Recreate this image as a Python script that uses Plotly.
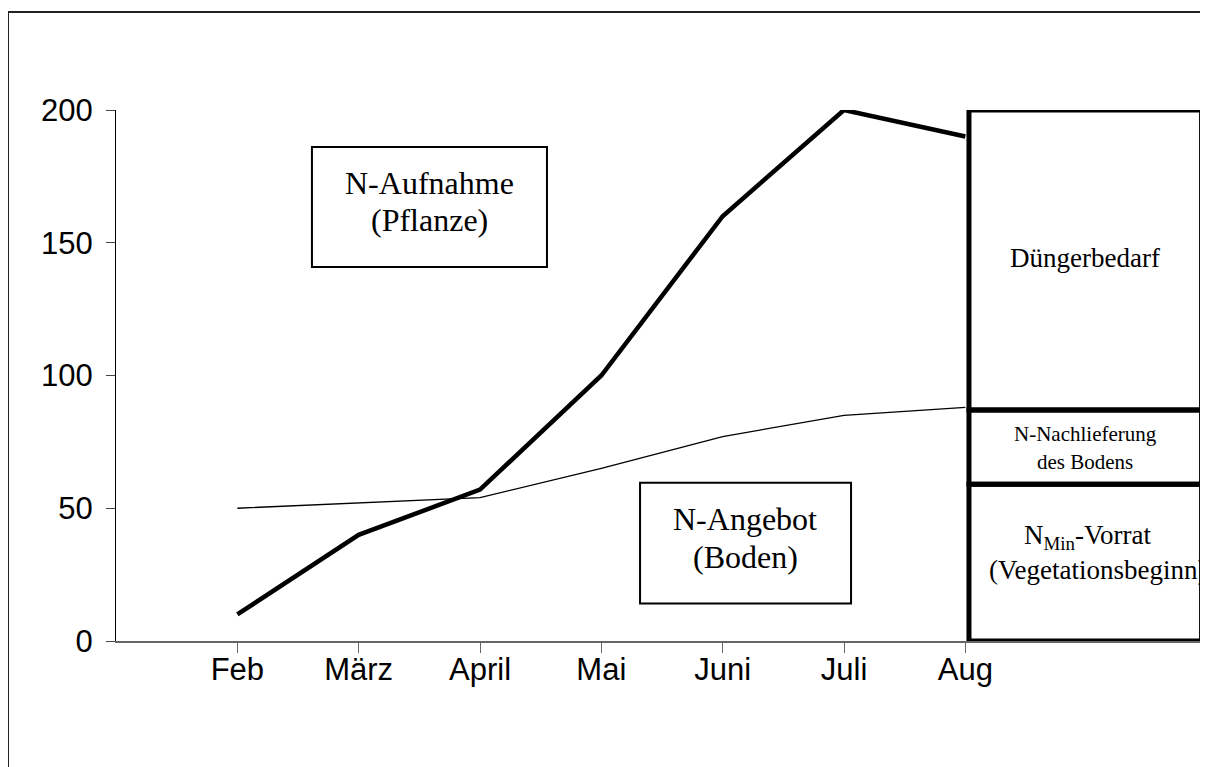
import plotly.graph_objects as go

# Monate und Werte (kg N/ha)
monate = ["Feb", "März", "April", "Mai", "Juni", "Juli", "Aug"]
n_aufnahme = [10, 40, 57, 100, 160, 200, 190]
n_angebot = [50, 52, 54, 65, 77, 85, 88]
y_ticks = [0, 50, 100, 150, 200]

# Grenzen der Bilanz-Säule rechts (kg N/ha)
saeule_grenzen = [0, 59, 87, 200]

x_pos = list(range(1, len(monate) + 1))
serif = "Liberation Serif, Times New Roman, serif"
sans = "Liberation Sans, Arial, sans-serif"

fig = go.Figure()
fig.add_trace(
    go.Scatter(
        x=x_pos,
        y=n_angebot,
        mode="lines",
        line=dict(color="black", width=1.3),
        name="N-Angebot",
    )
)
fig.add_trace(
    go.Scatter(
        x=x_pos,
        y=n_aufnahme,
        mode="lines",
        line=dict(color="black", width=4.5),
        name="N-Aufnahme",
    )
)

# Rahmen um die ganze Grafik
fig.add_shape(
    type="rect", xref="paper", yref="paper",
    x0=-0.0989, x1=1.02, y0=-0.3, y1=1.1846,
    line=dict(color="#222", width=2),
)

# Strich unter der Y-Achse (erster Teilstrich der X-Achse)
fig.add_shape(type="line", x0=0, x1=0, y0=0, y1=-3.8,
              line=dict(color="black", width=1))

# Textkästen
fig.add_shape(type="rect", x0=1.615, x1=3.552, y0=140.9, y1=186.1,
              line=dict(color="black", width=2), fillcolor="white", layer="below")
fig.add_shape(type="rect", x0=4.319, x1=6.058, y0=14.1, y1=59.6,
              line=dict(color="black", width=2), fillcolor="white", layer="below")

# Bilanz-Säule
for lo, hi in zip(saeule_grenzen[:-1], saeule_grenzen[1:]):
    fig.add_shape(type="rect", x0=7.03, x1=8.947, y0=lo, y1=hi,
                  line=dict(color="black", width=5), fillcolor="rgba(0,0,0,0)")

texte = [
    (2.584, 172.5, "N-Aufnahme", 32),
    (2.584, 158.5, "(Pflanze)", 32),
    (5.188, 45.8, "N-Angebot", 32),
    (5.188, 31.8, "(Boden)", 32),
    (7.99, 144.3, "Düngerbedarf", 27),
    (7.99, 78.0, "N-Nachlieferung", 21),
    (7.99, 67.5, "des Bodens", 21),
    (8.01, 39.3, "N<sub>Min</sub>-Vorrat", 27),
    (8.09, 26.9, "(Vegetationsbeginn)", 27),
]
for x, y, t, s in texte:
    fig.add_annotation(x=x, y=y, text=t, showarrow=False,
                       font=dict(family=serif, size=s, color="black"))

fig.update_layout(
    width=1200,
    height=759,
    margin=dict(l=108, r=0, t=102, b=126),
    paper_bgcolor="white",
    plot_bgcolor="white",
    showlegend=False,
    xaxis=dict(
        range=[0, 9],
        tickvals=x_pos,
        ticktext=monate,
        ticks="outside",
        ticklen=10,
        tickcolor="#666",
        showline=True,
        linecolor="#666",
        linewidth=1.5,
        showgrid=False,
        zeroline=False,
        tickfont=dict(family=sans, size=31, color="black"),
        ticklabelstandoff=-10,
    ),
    yaxis=dict(
        range=[0, 200],
        tickvals=y_ticks,
        ticks="outside",
        ticklen=9,
        tickcolor="#444",
        showline=True,
        linecolor="black",
        linewidth=1,
        showgrid=False,
        zeroline=False,
        tickfont=dict(family=sans, size=31, color="black"),
        ticklabelstandoff=7,
    ),
)

fig.write_html("out.html")
